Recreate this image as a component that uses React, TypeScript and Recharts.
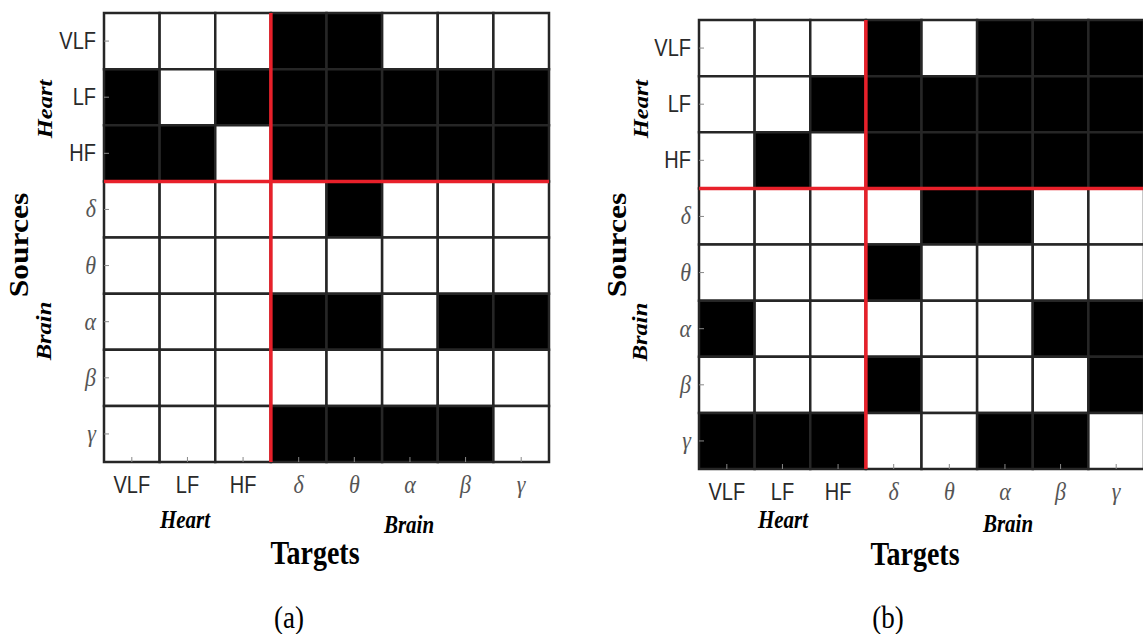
import React from 'react';
import { ScatterChart, Scatter, XAxis, YAxis, ReferenceArea, ReferenceLine } from 'recharts';

const sources = ['VLF', 'LF', 'HF', 'δ', 'θ', 'α', 'β', 'γ'];
const targets = ['VLF', 'LF', 'HF', 'δ', 'θ', 'α', 'β', 'γ'];
const tickPositions = [0.5, 1.5, 2.5, 3.5, 4.5, 5.5, 6.5, 7.5];

// 1 = significant link (black cell), rows = sources, cols = targets
const linksA = [
  [0, 0, 0, 1, 1, 0, 0, 0],
  [1, 0, 1, 1, 1, 1, 1, 1],
  [1, 1, 0, 1, 1, 1, 1, 1],
  [0, 0, 0, 0, 1, 0, 0, 0],
  [0, 0, 0, 0, 0, 0, 0, 0],
  [0, 0, 0, 1, 1, 0, 1, 1],
  [0, 0, 0, 0, 0, 0, 0, 0],
  [0, 0, 0, 1, 1, 1, 1, 0],
];

const linksB = [
  [0, 0, 0, 1, 0, 1, 1, 1],
  [0, 0, 1, 1, 1, 1, 1, 1],
  [0, 1, 0, 1, 1, 1, 1, 1],
  [0, 0, 0, 0, 1, 1, 0, 0],
  [0, 0, 0, 1, 0, 0, 0, 0],
  [1, 0, 0, 0, 0, 0, 1, 1],
  [0, 0, 0, 1, 0, 0, 0, 1],
  [1, 1, 1, 0, 0, 1, 1, 0],
];

const heartCount = 3;

const SERIF = '"Liberation Serif", "DejaVu Serif", serif';
const SANS = '"Liberation Sans", Arial, sans-serif';
const STRETCH = 1.17; // the source figure is slightly stretched vertically

const isGreek = (s: string) => !/[A-Z]/.test(s);

const TickText: React.FC<{ x: number; y: number; anchor: 'middle' | 'end'; label: string }> = ({ x, y, anchor, label }) => {
  const greek = isGreek(label);
  return (
    <text
      transform={`translate(${x},${y}) scale(1,${STRETCH})`}
      textAnchor={anchor}
      fontFamily={greek ? SERIF : SANS}
      fontStyle={greek ? 'italic' : 'normal'}
      fontSize={greek ? 22 : 20}
      fill={greek ? '#555' : '#2a2a2a'}
    >
      {label}
    </text>
  );
};

const BottomTick = (props: any) => {
  const { x, y, payload } = props;
  const label = targets[Math.floor(payload.value)];
  return (
    <g>
      <line x1={x} x2={x} y1={y} y2={y - 5} stroke="#888" strokeWidth={1} />
      <TickText x={x} y={y + 31} anchor="middle" label={label} />
    </g>
  );
};

const LeftTick = (props: any) => {
  const { x, y, payload } = props;
  const label = sources[Math.floor(payload.value)];
  return (
    <g>
      <line x1={x} x2={x + 5} y1={y} y2={y} stroke="#888" strokeWidth={1} />
      <TickText x={x - 8} y={y + 8} anchor="end" label={label} />
    </g>
  );
};

const TopTick = (props: any) => {
  const { x, y } = props;
  return <line x1={x} x2={x} y1={y} y2={y + 5} stroke="#888" strokeWidth={1} />;
};

const RightTick = (props: any) => {
  const { x, y } = props;
  return <line x1={x} x2={x - 5} y1={y} y2={y} stroke="#888" strokeWidth={1} />;
};

const Rotated: React.FC<{ x: number; y: number; size: number; italic?: boolean; children: React.ReactNode }> = ({
  x, y, size, italic, children,
}) => (
  <div
    style={{
      position: 'absolute',
      left: x,
      top: y,
      transform: `translate(-50%, -50%) rotate(-90deg) scaleX(${STRETCH})`,
      fontFamily: SERIF,
      fontWeight: 'bold',
      fontStyle: italic ? 'italic' : 'normal',
      fontSize: size,
      whiteSpace: 'nowrap',
      lineHeight: 1,
      color: '#000',
    }}
  >
    {children}
  </div>
);

const Flat: React.FC<{ x: number; y: number; size: number; italic?: boolean; bold?: boolean; children: React.ReactNode }> = ({
  x, y, size, italic, bold = true, children,
}) => (
  <div
    style={{
      position: 'absolute',
      left: x,
      top: y,
      transform: `translate(-50%, -50%) scaleY(${STRETCH})`,
      fontFamily: SERIF,
      fontWeight: bold ? 'bold' : 'normal',
      fontStyle: italic ? 'italic' : 'normal',
      fontSize: size,
      whiteSpace: 'nowrap',
      lineHeight: 0.9,
      color: '#000',
    }}
  >
    {children}
  </div>
);

const MatrixChart: React.FC<{ links: number[][] }> = ({ links }) => {
  const cells = links.flatMap((row, r) => row.map((v, c) => ({ x: c + 0.5, y: r + 0.5, r, c, v })));
  return (
    <ScatterChart width={560} height={500} margin={{ top: 13, right: 11, bottom: 8, left: 0 }}>
      <XAxis
        xAxisId="bottom"
        type="number"
        dataKey="x"
        domain={[0, 8]}
        ticks={tickPositions}
        tick={<BottomTick />}
        tickLine={false}
        axisLine={false}
        tickSize={0}
        tickMargin={0}
        height={30}
        interval={0}
      />
      <XAxis
        xAxisId="top"
        orientation="top"
        type="number"
        dataKey="x"
        domain={[0, 8]}
        ticks={tickPositions}
        tick={<TopTick />}
        tickLine={false}
        axisLine={false}
        tickSize={0}
        tickMargin={0}
        height={0}
        interval={0}
      />
      <YAxis
        yAxisId="left"
        type="number"
        dataKey="y"
        domain={[0, 8]}
        reversed
        ticks={tickPositions}
        tick={<LeftTick />}
        tickLine={false}
        axisLine={false}
        tickSize={0}
        tickMargin={0}
        width={104}
        interval={0}
      />
      <YAxis
        yAxisId="right"
        orientation="right"
        type="number"
        dataKey="y"
        domain={[0, 8]}
        reversed
        ticks={tickPositions}
        tick={<RightTick />}
        tickLine={false}
        axisLine={false}
        tickSize={0}
        tickMargin={0}
        width={0}
        interval={0}
      />
      {cells.map((cell) => (
        <ReferenceArea
          key={`cell-${cell.r}-${cell.c}`}
          xAxisId="bottom"
          yAxisId="left"
          x1={cell.c}
          x2={cell.c + 1}
          y1={cell.r}
          y2={cell.r + 1}
          fill={cell.v ? '#000' : '#fff'}
          fillOpacity={1}
          stroke="#262626"
          strokeWidth={2.5}
          ifOverflow="visible"
        />
      ))}
      <ReferenceLine xAxisId="bottom" yAxisId="left" x={heartCount} stroke="#e8202a" strokeWidth={3.5} />
      <ReferenceLine xAxisId="bottom" yAxisId="left" y={heartCount} stroke="#e8202a" strokeWidth={3.5} />
      <Scatter
        xAxisId="bottom"
        yAxisId="left"
        data={cells}
        shape={() => <g />}
        isAnimationActive={false}
      />
    </ScatterChart>
  );
};

export default function App() {
  return (
    <div
      style={{
        position: 'absolute',
        left: 0,
        top: 0,
        width: 1143,
        height: 634,
        overflow: 'hidden',
        background: '#fff',
      }}
    >
      {/* panel (a) */}
      <div style={{ position: 'absolute', left: 0, top: 0 }}>
        <MatrixChart links={linksA} />
      </div>
      <Rotated x={45} y={109} size={21} italic>Heart</Rotated>
      <Rotated x={19} y={245} size={27}>Sources</Rotated>
      <Rotated x={44} y={331} size={21} italic>Brain</Rotated>
      <Flat x={185} y={520} size={21} italic>Heart</Flat>
      <Flat x={409} y={525} size={21} italic>Brain</Flat>
      <Flat x={315} y={553} size={28}>Targets</Flat>
      <Flat x={289} y={618} size={27} bold={false}>(a)</Flat>

      {/* panel (b) */}
      <div style={{ position: 'absolute', left: 595, top: 7 }}>
        <MatrixChart links={linksB} />
      </div>
      <Rotated x={641} y={109} size={21} italic>Heart</Rotated>
      <Rotated x={617} y={245} size={27}>Sources</Rotated>
      <Rotated x={640} y={332} size={21} italic>Brain</Rotated>
      <Flat x={783} y={520} size={21} italic>Heart</Flat>
      <Flat x={1008} y={524} size={21} italic>Brain</Flat>
      <Flat x={915} y={554} size={28}>Targets</Flat>
      <Flat x={888} y={618} size={27} bold={false}>(b)</Flat>
    </div>
  );
}
